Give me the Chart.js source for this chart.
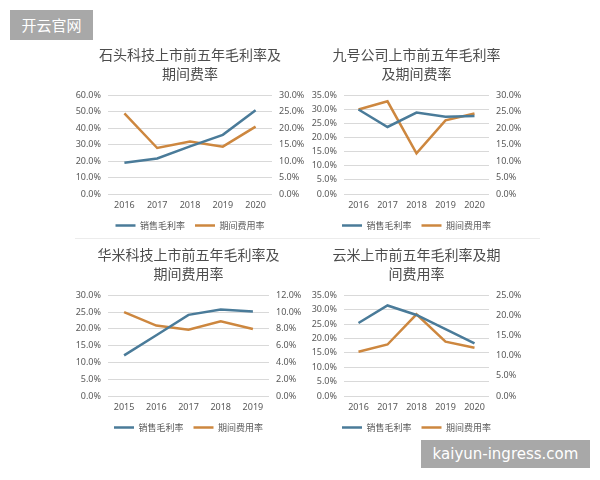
<!DOCTYPE html>
<html lang="zh">
<head>
<meta charset="UTF-8">
<title>上市前五年毛利率及期间费用率</title>
<script src="https://cdn.jsdelivr.net/npm/chart.js"></script>
<style>
    body {
        margin: 0;
        width: 600px;
        height: 480px;
        position: relative;
        overflow: hidden;
        background: #fff;
        font-family: "Noto Sans CJK SC", sans-serif;
    }
    canvas { position: absolute; }
    .sep {
        position: absolute;
        left: 75px;
        top: 238px;
        width: 465px;
        height: 1px;
        background: #ececec;
    }
    .mark {
        position: absolute;
        background: #a8a8a8;
        color: #fff;
        font-size: 15px;
        text-align: center;
    }
</style>
</head>
<body>
<canvas id="c1" width="264" height="200" style="left:58px;top:40px"></canvas>
<canvas id="c2" width="245" height="200" style="left:294px;top:40px"></canvas>
<canvas id="c3" width="261" height="202" style="left:58px;top:240px"></canvas>
<canvas id="c4" width="245" height="202" style="left:294px;top:240px"></canvas>
<div class="sep"></div>
<div class="mark" style="left:10px;top:10px;width:83px;height:30px;line-height:30px;">开云官网</div>
<div class="mark" style="left:421px;top:440px;width:169px;height:28px;line-height:28px;font-family:'DejaVu Sans',sans-serif;">kaiyun-ingress.com</div>

<script>
// years on the x axis
const years1 = ['2016', '2017', '2018', '2019', '2020'];
const years3 = ['2015', '2016', '2017', '2018', '2019'];

// 销售毛利率 (left axis) and 期间费用率 (right axis), in %
const shitouGross = [19.0, 21.6, 29.0, 36.0, 51.0];
const shitouExpense = [24.5, 14.0, 16.0, 14.4, 20.5];
const ninebotGross = [30.0, 23.8, 28.9, 27.4, 27.7];
const ninebotExpense = [25.7, 28.2, 12.4, 22.4, 24.5];
const huamiGross = [12.1, 18.1, 24.2, 25.8, 25.2];
const huamiExpense = [10.0, 8.4, 7.9, 8.9, 8.0];
const yunmiGross = [25.4, 31.5, 28.2, 23.3, 18.3];
const yunmiExpense = [11.0, 12.8, 20.3, 13.5, 12.0];

// axis ranges: chart 1..4
const leftMax = [60, 35, 30, 35];
const leftStep = [10, 5, 5, 5];
const rightMax = [30, 30, 12, 25];
const rightStep = [5, 5, 2, 5];

const titles = [
    ['石头科技上市前五年毛利率及', '期间费率'],
    ['九号公司上市前五年毛利率', '及期间费率'],
    ['华米科技上市前五年毛利率及', '期间费用率'],
    ['云米上市前五年毛利率及期', '间费用率']
];

const BLUE = '#4a7b99';
const ORANGE = '#cd873f';
const TEXT = '#595959';

function pct(v) {
    return v.toFixed(1) + '%';
}

function makeChart(id, idx, labels, gross, expense) {
    var ctx = document.getElementById(id).getContext('2d');
    return new Chart(ctx, {
        type: 'line',
        data: {
            labels: labels,
            datasets: [{
                label: '销售毛利率',
                data: gross,
                borderColor: BLUE,
                backgroundColor: BLUE,
                borderWidth: 2.5,
                pointRadius: 0,
                tension: 0,
                yAxisID: 'y'
            }, {
                label: '期间费用率',
                data: expense,
                borderColor: ORANGE,
                backgroundColor: ORANGE,
                borderWidth: 2.5,
                pointRadius: 0,
                tension: 0,
                yAxisID: 'y1'
            }]
        },
        options: {
            responsive: false,
            animation: false,
            layout: { padding: 0 },
            plugins: {
                title: {
                    display: true,
                    text: titles[idx],
                    color: '#4d4d4d',
                    font: { size: 14, weight: 'normal', family: '"Noto Sans CJK SC", sans-serif', lineHeight: 1.3 },
                    padding: { top: 6, bottom: 13 }
                },
                legend: {
                    position: 'bottom',
                    labels: {
                        usePointStyle: true,
                        pointStyle: 'line',
                        pointStyleWidth: 20,
                        color: TEXT,
                        padding: 10,
                        font: { size: 9, family: '"Noto Sans CJK SC", sans-serif' }
                    }
                },
                tooltip: { enabled: false }
            },
            scales: {
                x: {
                    offset: true,
                    grid: { display: false, drawTicks: false },
                    border: { display: false },
                    ticks: { color: TEXT, padding: 6, font: { size: 9, family: '"Noto Sans", sans-serif' } },
                    afterFit: function (s) { s.height = 17; }
                },
                y: {
                    position: 'left',
                    min: 0,
                    max: leftMax[idx],
                    grid: { color: '#d9d9d9', drawTicks: false },
                    border: { display: false },
                    ticks: {
                        stepSize: leftStep[idx],
                        autoSkip: false,
                        color: TEXT,
                        padding: 7,
                        font: { size: 9, family: '"Noto Sans", sans-serif' },
                        callback: pct
                    },
                    afterFit: function (s) { s.width = 50; }
                },
                y1: {
                    position: 'right',
                    min: 0,
                    max: rightMax[idx],
                    grid: { display: false, drawTicks: false },
                    border: { display: false },
                    ticks: {
                        stepSize: rightStep[idx],
                        autoSkip: false,
                        color: TEXT,
                        padding: 7,
                        font: { size: 9, family: '"Noto Sans", sans-serif' },
                        callback: pct
                    },
                    afterFit: function (s) { s.width = 50; }
                }
            }
        }
    });
}

makeChart('c1', 0, years1, shitouGross, shitouExpense);
makeChart('c2', 1, years1, ninebotGross, ninebotExpense);
makeChart('c3', 2, years3, huamiGross, huamiExpense);
makeChart('c4', 3, years1, yunmiGross, yunmiExpense);
</script>
</body>
</html>
